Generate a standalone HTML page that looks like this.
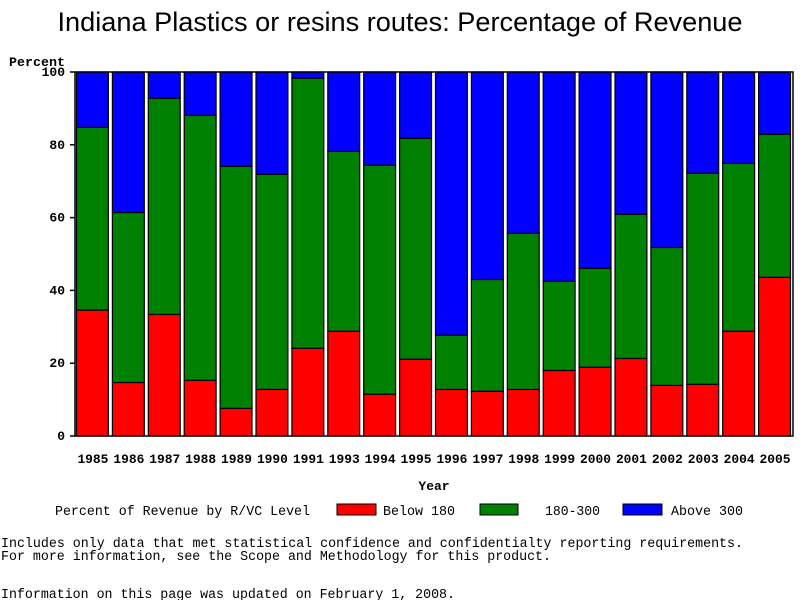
<!DOCTYPE html>
<html><head><meta charset="utf-8"><style>
body{margin:0;background:#fff;width:800px;height:600px;overflow:hidden}
svg text{font-family:"Liberation Mono",monospace}
</style></head><body>
<svg width="800" height="600" xmlns="http://www.w3.org/2000/svg">
<text x="400" y="31" text-anchor="middle" font-size="27" textLength="685" lengthAdjust="spacingAndGlyphs" style="font-family:'Liberation Sans',sans-serif">Indiana Plastics or resins routes: Percentage of Revenue</text>
<text x="9" y="66" font-size="13" font-weight="bold" textLength="56" lengthAdjust="spacingAndGlyphs">Percent</text>
<g id="plot"></g>
<text x="434" y="490" text-anchor="middle" font-size="13" font-weight="bold">Year</text>
<g>
<text x="55" y="515" font-size="13.4" textLength="255" lengthAdjust="spacingAndGlyphs">Percent of Revenue by R/VC Level</text>
<rect x="337" y="504" width="39" height="11" fill="#ff0000" stroke="#000"/>
<text x="383" y="515" font-size="13.4" textLength="72" lengthAdjust="spacingAndGlyphs">Below 180</text>
<rect x="480" y="504" width="38" height="11" fill="#008000" stroke="#000"/>
<text x="545" y="515" font-size="13.4" textLength="55" lengthAdjust="spacingAndGlyphs">180-300</text>
<rect x="623" y="504" width="39" height="11" fill="#0000ff" stroke="#000"/>
<text x="671" y="515" font-size="13.4" textLength="72" lengthAdjust="spacingAndGlyphs">Above 300</text>
</g>
<text x="1" y="547" font-size="13.4" textLength="742" lengthAdjust="spacingAndGlyphs">Includes only data that met statistical confidence and confidentialty reporting requirements.</text>
<text x="1" y="560" font-size="13.4" textLength="550" lengthAdjust="spacingAndGlyphs">For more information, see the Scope and Methodology for this product.</text>
<text x="1" y="598" font-size="13.4" textLength="454" lengthAdjust="spacingAndGlyphs">Information on this page was updated on February 1, 2008.</text>
</svg>
<script>
const years=["1985","1986","1987","1988","1989","1990","1991","1993","1994","1995","1996","1997","1998","1999","2000","2001","2002","2003","2004","2005"];
const below180=[34.6,14.7,33.4,15.3,7.6,12.8,24.1,28.8,11.5,21.1,12.8,12.3,12.8,18.0,18.9,21.3,13.9,14.2,28.8,43.6];
const mid180to300=[50.2,46.7,59.4,72.8,66.5,59.1,74.2,49.4,62.9,60.7,14.9,30.7,42.9,24.5,27.2,39.6,37.9,58.0,46.1,39.3];
const above300=[15.2,38.6,7.2,11.9,25.9,28.1,1.7,21.8,25.6,18.2,72.3,57.0,44.3,57.5,53.9,39.1,48.2,27.8,25.1,17.1];
const yTicks=[0,20,40,60,80,100];
const NS="http://www.w3.org/2000/svg";
const L=75,R=793,T=72,B=436,slot=(R-L)/years.length;
const y=v=>B-(v/100)*(B-T);
const x=i=>L+i*slot;
const g=document.getElementById('plot');
function mk(tag,attrs){const e=document.createElementNS(NS,tag);for(const k in attrs)e.setAttribute(k,attrs[k]);g.appendChild(e);return e;}
const series=[[below180,"#ff0000","below-180"],[mid180to300,"#008000","180-300"],[above300,"#0000ff","above-300"]];
years.forEach((yr,i)=>{
  let base=0;
  series.forEach(([arr,col,nm])=>{
    const v=arr[i];
    const r=mk('rect',{x:x(i)+1.5,y:y(base+v),width:slot-4,height:y(base)-y(base+v),fill:col,stroke:'#000','stroke-width':1.2});
    
    
    base+=v;
  });
  const t=mk('text',{x:x(i)+slot/2,y:463,'text-anchor':'middle','font-size':13,'font-weight':'bold',textLength:31,lengthAdjust:'spacingAndGlyphs'});
  t.textContent=yr;
  
  
});
const frame=mk('rect',{x:L,y:T,width:R-L,height:B-T,fill:'none',stroke:'#000','stroke-width':1.5});


yTicks.forEach(v=>{
  const tk=mk('line',{x1:L-5,x2:L,y1:y(v),y2:y(v),stroke:'#000','stroke-width':1.5});
  
  
  const t=mk('text',{x:65,y:y(v)+4,'text-anchor':'end','font-size':13,'font-weight':'bold'});
  t.textContent=v;
  
  
});
</script>
</body></html>
